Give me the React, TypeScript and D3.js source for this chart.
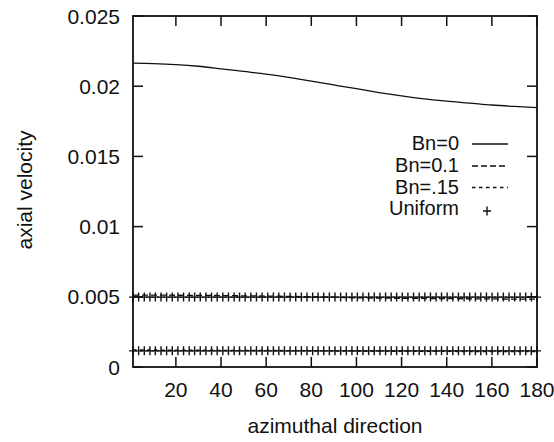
import React from "react";
import * as d3 from "d3";

// sample angles for the three curves (degrees)
const angles = [1, 10, 20, 30, 40, 50, 60, 70, 80, 90, 100, 110, 120, 130, 140, 150, 160, 170, 180];
const bn0 = [
  0.02164, 0.02161, 0.02154, 0.02142, 0.02124, 0.02105, 0.02086, 0.02063, 0.02036, 0.02009,
  0.01982, 0.01955, 0.01931, 0.0191, 0.01893, 0.0188, 0.01866, 0.01856, 0.01848,
];
const bn01 = [
  0.00512, 0.00512, 0.00511, 0.0051, 0.00509, 0.00507, 0.00505, 0.00503, 0.005, 0.00497,
  0.00493, 0.00491, 0.00489, 0.00488, 0.00487, 0.00486, 0.00485, 0.00484, 0.00484,
];
const bn015 = [
  0.00121, 0.00121, 0.0012, 0.0012, 0.00119, 0.00119, 0.00118, 0.00117, 0.00116, 0.00115,
  0.00114, 0.00113, 0.00112, 0.00111, 0.00111, 0.0011, 0.0011, 0.00109, 0.00109,
];

// angles of the "Uniform" points, and their two levels
const uniformAngles = [
  1, 3.5, 6, 8.5, 10.9, 13.4, 15.9, 18.4, 20.9, 23.4, 25.9, 28.3, 30.8, 33.3, 35.8, 38.3, 40.8,
  43.3, 45.8, 48.2, 50.7, 53.2, 55.7, 58.2, 60.7, 63.2, 65.6, 68.1, 70.6, 73.1, 75.6, 78.1, 80.6,
  83, 85.5, 88, 90.5, 93, 95.5, 98, 100.4, 102.9, 105.4, 107.9, 110.4, 112.9, 115.4, 117.8, 120.3,
  122.8, 125.3, 127.8, 130.3, 132.8, 135.3, 137.7, 140.2, 142.7, 145.2, 147.7, 150.2, 152.7, 155.1,
  157.6, 160.1, 162.6, 165.1, 167.6, 170.1, 172.5, 175, 177.5, 180,
];
const uniformLevels = [0.00498, 0.00115];

const xTicks = [20, 40, 60, 80, 100, 120, 140, 160, 180];
const yTicks = [0, 0.005, 0.01, 0.015, 0.02, 0.025];
const yTickLabels = ["0", "0.005", "0.01", "0.015", "0.02", "0.025"];

const legendItems = [
  { label: "Bn=0", dash: "" },
  { label: "Bn=0.1", dash: "6,3" },
  { label: "Bn=.15", dash: "3.5,3.5" },
  { label: "Uniform", dash: "marker" },
];

const width = 554;
const height = 442;
const margin = { top: 16, right: 17, bottom: 75, left: 133 };

export default function App() {
  const x = d3.scaleLinear().domain([1, 180]).range([margin.left, width - margin.right]);
  const y = d3.scaleLinear().domain([0, 0.025]).range([height - margin.bottom, margin.top]);

  const line = d3
    .line<number>()
    .x((_, i) => x(angles[i]))
    .y((d) => y(d))
    .curve(d3.curveMonotoneX);

  const ink = "#111";
  const font = "'Liberation Sans', Arial, Helvetica, sans-serif";
  const fs = 21;
  const tickLen = 10;
  const x0 = margin.left;
  const x1 = width - margin.right;
  const y0 = height - margin.bottom;
  const y1 = margin.top;

  const plus = (cx: number, cy: number, key: string) => (
    <path key={key} d={`M${cx - 4},${cy}H${cx + 4}M${cx},${cy - 4.5}V${cy + 4.5}`} stroke={ink} strokeWidth={1.4} />
  );

  return (
    <svg
      width={width}
      height={height}
      style={{ position: "absolute", left: 0, top: 0, background: "#fff" }}
      fontFamily={font}
      fontSize={fs}
      fill={ink}
    >
      <rect width={width} height={height} fill="#fff" />

      {/* ticks */}
      {xTicks.map((t) => (
        <g key={"xt" + t}>
          <line x1={x(t)} x2={x(t)} y1={y0} y2={y0 - tickLen} stroke={ink} strokeWidth={1.5} />
          <line x1={x(t)} x2={x(t)} y1={y1} y2={y1 + tickLen} stroke={ink} strokeWidth={1.5} />
          <text x={x(t)} y={y0 + 30} textAnchor="middle">
            {t}
          </text>
        </g>
      ))}
      {yTicks.map((t, i) => (
        <g key={"yt" + t}>
          <line x1={x0} x2={x0 + tickLen} y1={y(t)} y2={y(t)} stroke={ink} strokeWidth={1.5} />
          <line x1={x1} x2={x1 - tickLen} y1={y(t)} y2={y(t)} stroke={ink} strokeWidth={1.5} />
          <text x={120} y={y(t) + 7.5} textAnchor="end">
            {yTickLabels[i]}
          </text>
        </g>
      ))}

      {/* curves */}
      <path d={line(bn0) ?? ""} fill="none" stroke={ink} strokeWidth={1.3} />
      <path d={line(bn01) ?? ""} fill="none" stroke={ink} strokeWidth={1.3} strokeDasharray="6,3" />
      <path d={line(bn015) ?? ""} fill="none" stroke={ink} strokeWidth={1.3} strokeDasharray="3.5,3.5" />
      {uniformLevels.map((lv, j) =>
        uniformAngles.map((a, i) => plus(x(a), y(lv), `u${j}-${i}`))
      )}

      {/* frame */}
      <rect x={x0} y={y1} width={x1 - x0} height={y0 - y1} fill="none" stroke={ink} strokeWidth={1.8} />

      {/* legend */}
      {legendItems.map((it, i) => {
        const cy = [143, 165, 186.5, 208][i];
        return (
          <g key={it.label}>
            <text x={459} y={cy + 7} textAnchor="end" fontSize={20}>
              {it.label}
            </text>
            {it.dash === "marker" ? (
              plus(487, cy + 3, "lm")
            ) : (
              <line x1={472} x2={508} y1={cy + 1} y2={cy + 1} stroke={ink} strokeWidth={1.3} strokeDasharray={it.dash || undefined} />
            )}
          </g>
        );
      })}

      {/* axis titles */}
      <text x={(x0 + x1) / 2} y={433} textAnchor="middle">
        azimuthal direction
      </text>
      <text transform={`translate(32,${190}) rotate(-90)`} textAnchor="middle">
        axial velocity
      </text>
    </svg>
  );
}
